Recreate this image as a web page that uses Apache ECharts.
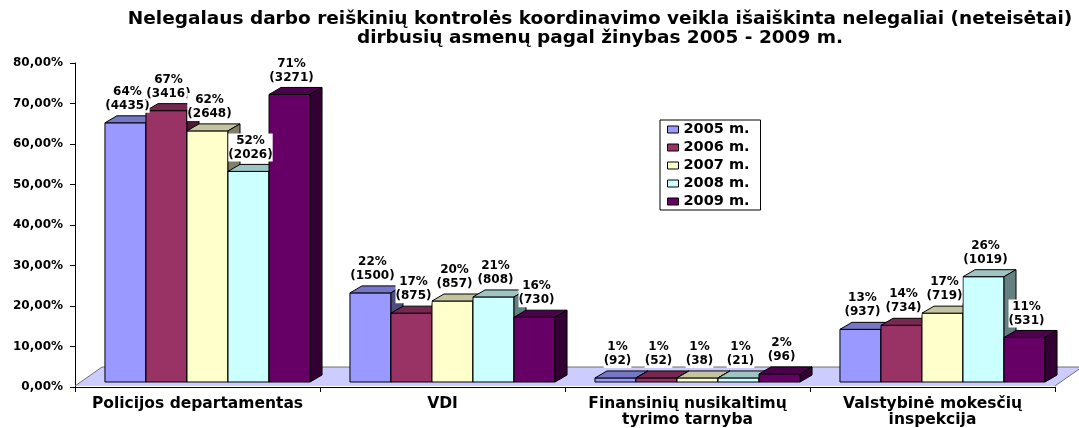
<!DOCTYPE html>
<html>
<head>
<meta charset="utf-8">
<script src="https://cdn.jsdelivr.net/npm/echarts@6/dist/echarts.min.js"></script>
<style>
  html, body { margin: 0; padding: 0; background: #fff; }
  #chart { width: 1079px; height: 428px; }
</style>
</head>
<body>
<div id="chart"></div>
<script>
// ─── 資料 ───────────────────────────────────────────────
const categories = [
  'Policijos departamentas',
  'VDI',
  'Finansinių nusikaltimų\ntyrimo tarnyba',
  'Valstybinė mokesčių\ninspekcija',
]
const years = ['2005 m.', '2006 m.', '2007 m.', '2008 m.', '2009 m.']

// procentai (stulpelio aukštis)
const pct2005 = [64, 22, 1, 13]
const pct2006 = [67, 17, 1, 14]
const pct2007 = [62, 20, 1, 17]
const pct2008 = [52, 21, 1, 26]
const pct2009 = [71, 16, 2, 11]

// asmenų skaičius (skliausteliuose)
const cnt2005 = [4435, 1500, 92, 937]
const cnt2006 = [3416, 875, 52, 734]
const cnt2007 = [2648, 857, 38, 719]
const cnt2008 = [2026, 808, 21, 1019]
const cnt2009 = [3271, 730, 96, 531]

const pctByYear = [pct2005, pct2006, pct2007, pct2008, pct2009]
const cntByYear = [cnt2005, cnt2006, cnt2007, cnt2008, cnt2009]

// ─── 樣式 ───────────────────────────────────────────────
const FONT = "'DejaVu Sans', sans-serif"
const front = ['#9999ff', '#993366', '#ffffcc', '#ccffff', '#660066']
const topC  = ['#7777c8', '#772850', '#c4c4a0', '#9fc4c4', '#4d004d']
const side  = ['#4d4d80', '#4d1a33', '#80806a', '#648080', '#330033']

const CAT_GAP = 0.163      // 類別間空隙
const SHIFT_X = 10, SHIFT_Y = 5   // 柱子在地板上的位置
const DX = 12, DY = -7            // 柱子 3D 深度
const FX = 27, FY = -19           // 地板深度

const renderBar = (params, api) => {
  const s   = params.seriesIndex
  const cat = api.value(0)
  const val = api.value(1)
  const base = api.coord([cat, 0])
  const top  = api.coord([cat, val])
  const band = api.size([1, 0])[0]
  const n = years.length
  const w  = band * (1 - CAT_GAP) / n
  const x0 = base[0] - w * n / 2 + s * w + SHIFT_X
  const yb = base[1] - SHIFT_Y
  const yt = top[1] - SHIFT_Y
  const line = { stroke: '#000', lineWidth: 1 }
  return {
    type: 'group',
    children: [
      { type: 'rect', shape: { x: x0, y: yt, width: w, height: yb - yt },
        style: Object.assign({ fill: front[s] }, line) },
      { type: 'polygon', shape: { points: [[x0, yt], [x0 + DX, yt + DY], [x0 + w + DX, yt + DY], [x0 + w, yt]] },
        style: Object.assign({ fill: topC[s] }, line) },
      { type: 'polygon', shape: { points: [[x0 + w, yt], [x0 + w + DX, yt + DY], [x0 + w + DX, yb + DY], [x0 + w, yb]] },
        style: Object.assign({ fill: side[s] }, line) },
      { type: 'text', z2: 10,
        style: {
          text: val + '%\n(' + cntByYear[s][cat] + ')',
          x: x0 + w / 2 + 2, y: yt + DY - 3,
          align: 'center', verticalAlign: 'bottom',
          font: 'bold 12px ' + FONT, fill: '#000',
          lineHeight: 14, backgroundColor: '#fff',
        } },
    ],
  }
}

const renderFloor = (params, api) => {
  const cs = params.coordSys
  const y0 = api.coord([0, 0])[1] - 1
  const l = cs.x, r = cs.x + cs.width
  return {
    type: 'group',
    children: [
      { type: 'polygon', shape: { points: [[l, y0], [l + FX, y0 + FY], [r + FX, y0 + FY], [r, y0]] },
        style: { fill: '#ccccff' } },
      { type: 'polyline', shape: { points: [[l, y0], [l + FX, y0 + FY], [r + FX, y0 + FY], [r, y0]] },
        style: { stroke: '#707070', lineWidth: 1, fill: null } },
    ],
  }
}

const barSeries = years.map((name, s) => ({
  name,
  type: 'custom',
  renderItem: renderBar,
  clip: false,
  z: 2,
  itemStyle: { color: front[s] },
  encode: { x: 0, y: 1 },
  data: pctByYear[s].map((v, i) => [i, v]),
}))

const chart = echarts.init(document.getElementById('chart'))
chart.setOption({
  animation: false,
  title: {
    text: 'Nelegalaus darbo reiškinių kontrolės koordinavimo veikla išaiškinta nelegaliai (neteisėtai)\ndirbusių asmenų pagal žinybas 2005 - 2009 m.',
    left: 595,
    top: 5,
    textAlign: 'center',
    textStyle: { fontFamily: FONT, fontWeight: 'bold', fontSize: 18.5, lineHeight: 19, color: '#000' },
  },
  legend: {
    data: years,
    orient: 'vertical',
    left: 660,
    top: 120,
    icon: 'rect',
    itemWidth: 11,
    itemHeight: 7,
    itemGap: 3,
    itemStyle: { borderColor: '#000', borderWidth: 1 },
    padding: [2, 11, 1, 7],
    backgroundColor: '#fff',
    borderColor: '#000',
    borderWidth: 1,
    borderRadius: 0,
    textStyle: { fontFamily: FONT, fontWeight: 'bold', fontSize: 14.5, color: '#000' },
  },
  grid: { left: 75, right: 24, top: 63, bottom: 37 },
  xAxis: {
    type: 'category',
    data: categories,
    axisLine: { lineStyle: { color: '#000', width: 1 } },
    axisTick: { show: true, length: 5, lineStyle: { color: '#000' } },
    axisLabel: {
      interval: 0, margin: 9, lineHeight: 16,
      fontFamily: FONT, fontWeight: 'bold', fontSize: 15.5, color: '#000',
    },
  },
  yAxis: {
    type: 'value',
    min: 0,
    max: 80,
    interval: 10,
    splitLine: { show: false },
    axisLine: { show: true, lineStyle: { color: '#000', width: 1 } },
    axisTick: { show: true, length: 5, lineStyle: { color: '#000' } },
    axisLabel: {
      margin: 12,
      formatter: v => v.toFixed(2).replace('.', ',') + '%',
      fontFamily: FONT, fontWeight: 'bold', fontSize: 12, color: '#000',
    },
  },
  series: barSeries.concat([{
    name: 'floor',
    type: 'custom',
    renderItem: renderFloor,
    clip: false,
    silent: true,
    z: 1,
    encode: { x: 0, y: 1 },
    data: [[0, 0]],
  }]),
})
</script>
</body>
</html>
